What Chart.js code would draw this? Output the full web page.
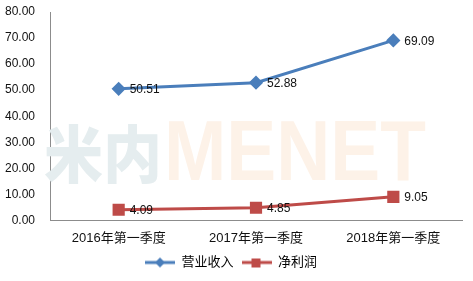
<!DOCTYPE html>
<html>
<head>
<meta charset="utf-8">
<script src="https://cdn.jsdelivr.net/npm/chart.js@4"></script>
<style>
  html, body { margin: 0; padding: 0; background: #fff; }
  #wrap { width: 473px; height: 281px; }
</style>
</head>
<body>
<div id="wrap"><canvas id="myChart" width="473" height="281"></canvas></div>
<script>
const categories = ['2016年第一季度', '2017年第一季度', '2018年第一季度'];
const revenue = [50.51, 52.88, 69.09];     // 营业收入
const netProfit = [4.09, 4.85, 9.05];      // 净利润
const seriesNames = ['营业收入', '净利润'];
const yTicks = [0, 10, 20, 30, 40, 50, 60, 70, 80];

const BLUE = '#4a7ebb';
const RED = '#be4b48';
const FONT = "'Liberation Sans', 'Noto Sans CJK SC', sans-serif";

// small legend glyph: line with marker in the middle
function legendGlyph(color, shape){
    const c = document.createElement('canvas');
    c.width = 30; c.height = 12;
    const g = c.getContext('2d');
    g.strokeStyle = color;
    g.lineWidth = 3;
    g.beginPath(); g.moveTo(0, 6); g.lineTo(30, 6); g.stroke();
    g.fillStyle = color;
    if (shape === 'diamond'){
        g.beginPath();
        g.moveTo(15, 1); g.lineTo(20, 6); g.lineTo(15, 11); g.lineTo(10, 6);
        g.closePath(); g.fill();
    } else {
        g.fillRect(10, 2, 9, 9);
    }
    return c;
}
const glyphs = [legendGlyph(BLUE, 'diamond'), legendGlyph(RED, 'square')];

const watermark = {
    id: 'watermark',
    beforeDatasetsDraw(chart){
        const ctx = chart.ctx;
        ctx.save();
        ctx.textBaseline = 'alphabetic';
        ctx.textAlign = 'left';
        ctx.fillStyle = '#e5edef';
        ctx.font = "900 62px 'Noto Sans CJK SC', sans-serif";
        ctx.fillText('米内', 44, 178, 118);
        ctx.fillStyle = '#fdf2e8';
        ctx.font = "bold 86px 'Liberation Sans', sans-serif";
        ctx.fillText('MENET', 164, 180, 262);
        ctx.restore();
    }
};

const valueLabels = {
    id: 'valueLabels',
    afterDatasetsDraw(chart){
        const ctx = chart.ctx;
        ctx.save();
        ctx.font = '12px ' + FONT;
        ctx.fillStyle = '#111';
        ctx.textAlign = 'left';
        ctx.textBaseline = 'middle';
        chart.data.datasets.forEach((ds, i) => {
            chart.getDatasetMeta(i).data.forEach((pt, j) => {
                ctx.fillText(ds.data[j].toFixed(2), pt.x + 11, pt.y + 1);
            });
        });
        ctx.restore();
    }
};

const ctx = document.getElementById('myChart').getContext('2d');
const myChart = new Chart(ctx, {
    type: 'line',
    data: {
        labels: categories,
        datasets: [{
            label: seriesNames[0],
            data: revenue,
            borderColor: BLUE,
            backgroundColor: BLUE,
            borderWidth: 3,
            pointStyle: 'rectRot',
            pointRadius: 5,
            pointHoverRadius: 5,
            tension: 0
        }, {
            label: seriesNames[1],
            data: netProfit,
            borderColor: RED,
            backgroundColor: RED,
            borderWidth: 3,
            pointStyle: 'rect',
            pointRadius: 6.5,
            pointHoverRadius: 6.5,
            tension: 0
        }]
    },
    options: {
        responsive: false,
        animation: false,
        layout: { autoPadding: false, padding: { left: 0, right: 11, top: 12, bottom: 2 } },
        plugins: {
            tooltip: { enabled: false },
            legend: {
                position: 'bottom',
                labels: {
                    usePointStyle: true,
                    pointStyleWidth: 30,
                    boxHeight: 12,
                    padding: 8,
                    color: '#111',
                    font: { family: FONT, size: 13 },
                    generateLabels(chart){
                        return chart.data.datasets.map((ds, i) => ({
                            text: ds.label,
                            pointStyle: glyphs[i],
                            fillStyle: ds.borderColor,
                            strokeStyle: ds.borderColor,
                            lineWidth: 0,
                            hidden: false,
                            datasetIndex: i
                        }));
                    }
                }
            }
        },
        scales: {
            x: {
                offset: true,
                afterFit(scale){ scale.height = scale.height - 8; },
                grid: { display: false, drawTicks: false },
                border: { color: '#8c8c8c', width: 1 },
                ticks: { color: '#111', font: { family: FONT, size: 13 }, padding: 10 }
            },
            y: {
                min: 0,
                max: 80,
                afterFit(scale){ scale.width = 50; },
                afterBuildTicks(scale){ scale.ticks = yTicks.map(v => ({ value: v })); },
                // grid hidden; tick length only keeps labels away from the axis
                grid: { display: false, drawTicks: true, tickLength: 13 },
                border: { color: '#8c8c8c', width: 1 },
                ticks: {
                    color: '#111',
                    padding: 2,
                    font: { family: FONT, size: 12 },
                    callback: v => Number(v).toFixed(2)
                }
            }
        }
    },
    plugins: [watermark, valueLabels]
});
</script>
</body>
</html>
